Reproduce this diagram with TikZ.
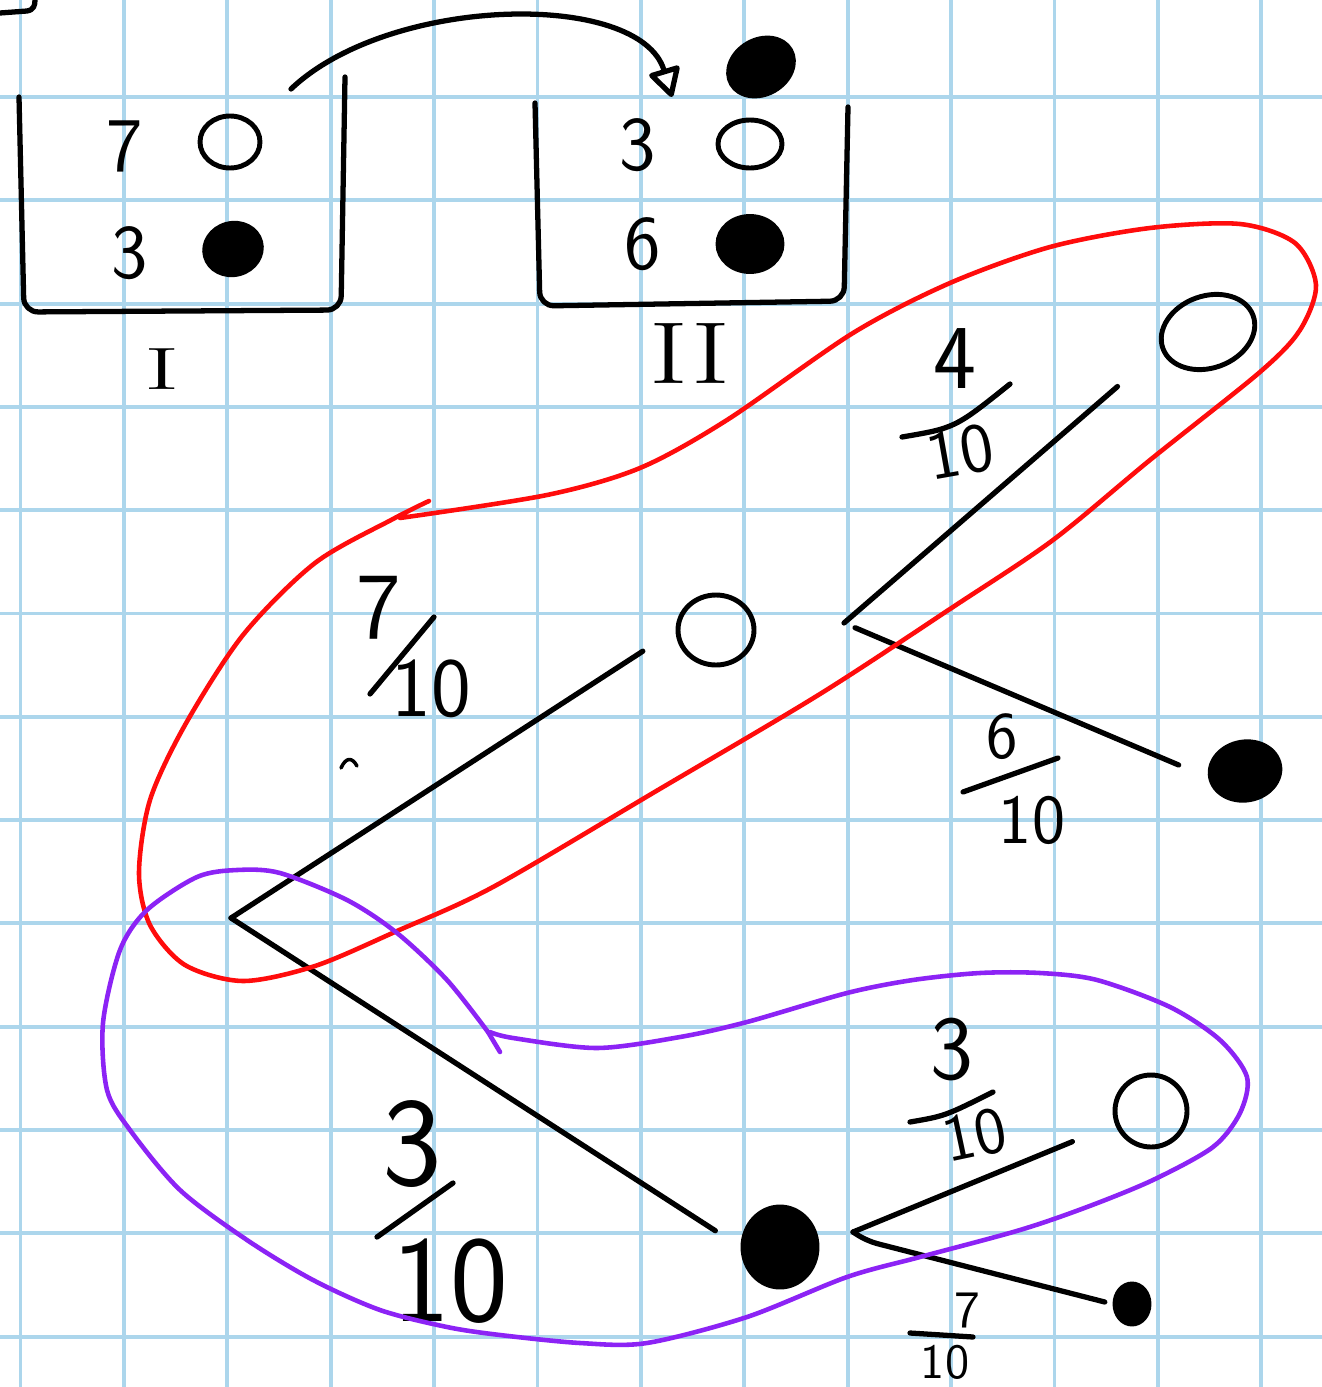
\documentclass[tikz,border=0pt]{standalone}
\usepackage{fontspec}
\usepackage{tikz}
\usetikzlibrary{shapes.geometric,arrows.meta}
\definecolor{gridblue}{RGB}{172,214,236}
\definecolor{loopred}{RGB}{255,12,12}
\definecolor{looppurple}{RGB}{140,35,245}

\begin{document}
\begin{tikzpicture}[x=0.1mm,y=-0.1mm,
		pen/.style={line width=1.5pt,line cap=round,line join=round},
		gridline/.style={gridblue,line width=1.1pt},
		hoop/.style={line width=1.3pt,line cap=round,line join=round},
		whiteball/.style={ellipse,draw,line width=1.4pt,inner sep=0pt},
		blackball/.style={ellipse,draw,fill=black,line width=1.4pt,inner sep=0pt},
		num/.style={font=\sffamily\fontsize{#1}{#1}\selectfont,inner sep=0pt}]
		\useasboundingbox (0,0) rectangle (1322,1387);
		\fill[white] (0,0) rectangle (1322,1387);
		% squared paper
		\foreach \k in {0,...,12} {
			\draw[gridline] (20.5+103.4*\k,0) -- (20.5+103.4*\k,1387);
			\draw[gridline] (0,97+103.3*\k) -- (1322,97+103.3*\k);
		}
		\draw[pen] (0,13) -- (27,11) .. controls (34,10) and (35,5) .. (35,0);
		% urn I
		\draw[pen,rounded corners=4pt] (19,97) -- (24,312) -- (341,310) -- (345,77);
		\node[num=22] (sevenI) at (125,146) {7};
		\node[whiteball,minimum width=6mm,minimum height=5.2mm] (whiteI) at (230,142) {};
		\node[num=22] (threeI) at (130,253) {3};
		\node[blackball,minimum width=5.7mm,minimum height=5.1mm,rotate=15] (blackI) at (233,249) {};
		\node[font=\fontsize{17}{17}\selectfont,inner sep=0pt,xscale=1.8] (urnI) at (162,369) {I};
		% urn II
		\draw[pen,rounded corners=4pt] (535,103) -- (540,306) -- (844,301) -- (848,107);
		\node[num=22] (threeII) at (638,145) {3};
		\node[whiteball,minimum width=6.4mm,minimum height=4.8mm] (whiteII) at (750,144) {};
		\node[num=22] (sixII) at (643,244) {6};
		\node[blackball,minimum width=6.4mm,minimum height=5.5mm] (blackII) at (750,244) {};
		\node[font=\fontsize{25}{25}\selectfont,inner sep=0pt,xscale=1.35] (urnII) at (690,353) {II};
		\node[blackball,minimum width=6.8mm,minimum height=5.4mm,rotate=30] (moved) at (761,67) {};
		% the drawn ball goes over
		\coordinate (arrowfrom) at (291,89);
		\coordinate (arrowto) at (672,97);
		\draw[pen,-{Triangle[open,length=3.2mm,width=3.4mm,round]}] (arrowfrom) .. controls (390,-5) and (640,-10) .. (arrowto);
		% tree
		\coordinate (root) at (231,918);
		\node[whiteball,minimum width=7.6mm,minimum height=7mm] (midW) at (716,630) {};
		\node[blackball,minimum width=7.4mm,minimum height=8mm] (lowB) at (780,1247) {};
		\coordinate (upfork) at (844,623);
		\coordinate (lowfork) at (853,1232);
		\node[whiteball,minimum width=9.6mm,minimum height=7.2mm,rotate=20] (topW) at (1208,332) {};
		\node[blackball,minimum width=7mm,minimum height=5.8mm,rotate=10] (rightB) at (1245,771) {};
		\node[whiteball,minimum width=7.2mm,minimum height=7.2mm] (lowW) at (1151,1111) {};
		\node[blackball,minimum width=3.4mm,minimum height=4mm] (smallB) at (1132,1304) {};
		\draw[pen,shorten >=3.9mm] (root) -- (midW.west);
		\draw[pen,shorten >=3mm] (root) -- (lowB.west);
		\draw[pen,shorten >=5.7mm] (upfork) -- (topW.west);
		\draw[pen,shorten <=1.2mm,shorten >=3.2mm] (upfork) -- (rightB.west);
		\draw[pen,shorten >=4.6mm] (lowfork) -- (lowW.200);
		\draw[pen,rounded corners=3pt,shorten >=0.8mm] (lowfork) -- ++(14,9) -- (smallB.west);
		% probabilities
		\node[num=27] (pSeven) at (379,608) {7};
		\draw[pen] (370,694) -- (434,617);
		\node[num=24] (pTenA) at (431,689) {10};
		\node[num=36] (pThree) at (412,1144) {3};
		\draw[pen] (377,1237) -- (453,1183);
		\node[num=35] (pTenB) at (450,1281) {10};
		\node[num=26] (pFour) at (955,359) {4};
		\draw[pen] (902,437) .. controls (955,428) .. (1010,384);
		\node[num=20,rotate=10] (pTenC) at (960,452) {10};
		\node[num=19] (pSix) at (1002,737) {6};
		\draw[pen] (963,792) -- (1058,758);
		\node[num=20] (pTenD) at (1032,820) {10};
		\node[num=26] (qThree) at (952,1050) {3};
		\draw[pen] (910,1122) .. controls (945,1116) .. (993,1092);
		\node[num=19,rotate=12] (qTenA) at (975,1135) {10};
		\node[num=15] (qSeven) at (967,1310) {7};
		\draw[pen] (910,1333) -- (973,1337);
		\node[num=14] (qTenB) at (945,1362) {10};
		\draw[pen,line width=1pt] (341,768) .. controls (346,757) and (352,757) .. (357,766);
		% loops
		\draw[hoop,loopred] plot [smooth] coordinates {(400,518) (547,495) (640,468) (727,420) (853,333) (950,283) (1050,247) (1150,228) (1240,224) (1295,243) (1316,285) (1300,330) (1260,372) (1150,460) (1053,540) (953,607) (820,694) (658,790) (493,887) (397,931) (315,966) (243,981) (185,965) (150,925) (139,873) (150,800) (185,725) (243,635) (315,563) (393,519) (429,501)};
		\draw[hoop,looppurple] plot [smooth] coordinates {(490,1032) (513,1038) (597,1048) (680,1037) (747,1022) (847,993) (913,980) (980,973) (1040,973) (1097,980) (1170,1007) (1220,1040) (1247,1077) (1240,1113) (1213,1147) (1153,1180) (1087,1207) (1020,1230) (920,1257) (847,1277) (747,1317) (647,1343) (580,1343) (500,1335) (447,1327) (380,1310) (313,1280) (247,1240) (180,1190) (130,1130) (107,1090) (103,1023) (120,950) (147,910) (197,877) (237,870) (280,873) (347,900) (397,933) (447,980) (488,1032)};
		\draw[hoop,looppurple] (488,1032) -- (500,1052);
\end{tikzpicture}
\end{document}
